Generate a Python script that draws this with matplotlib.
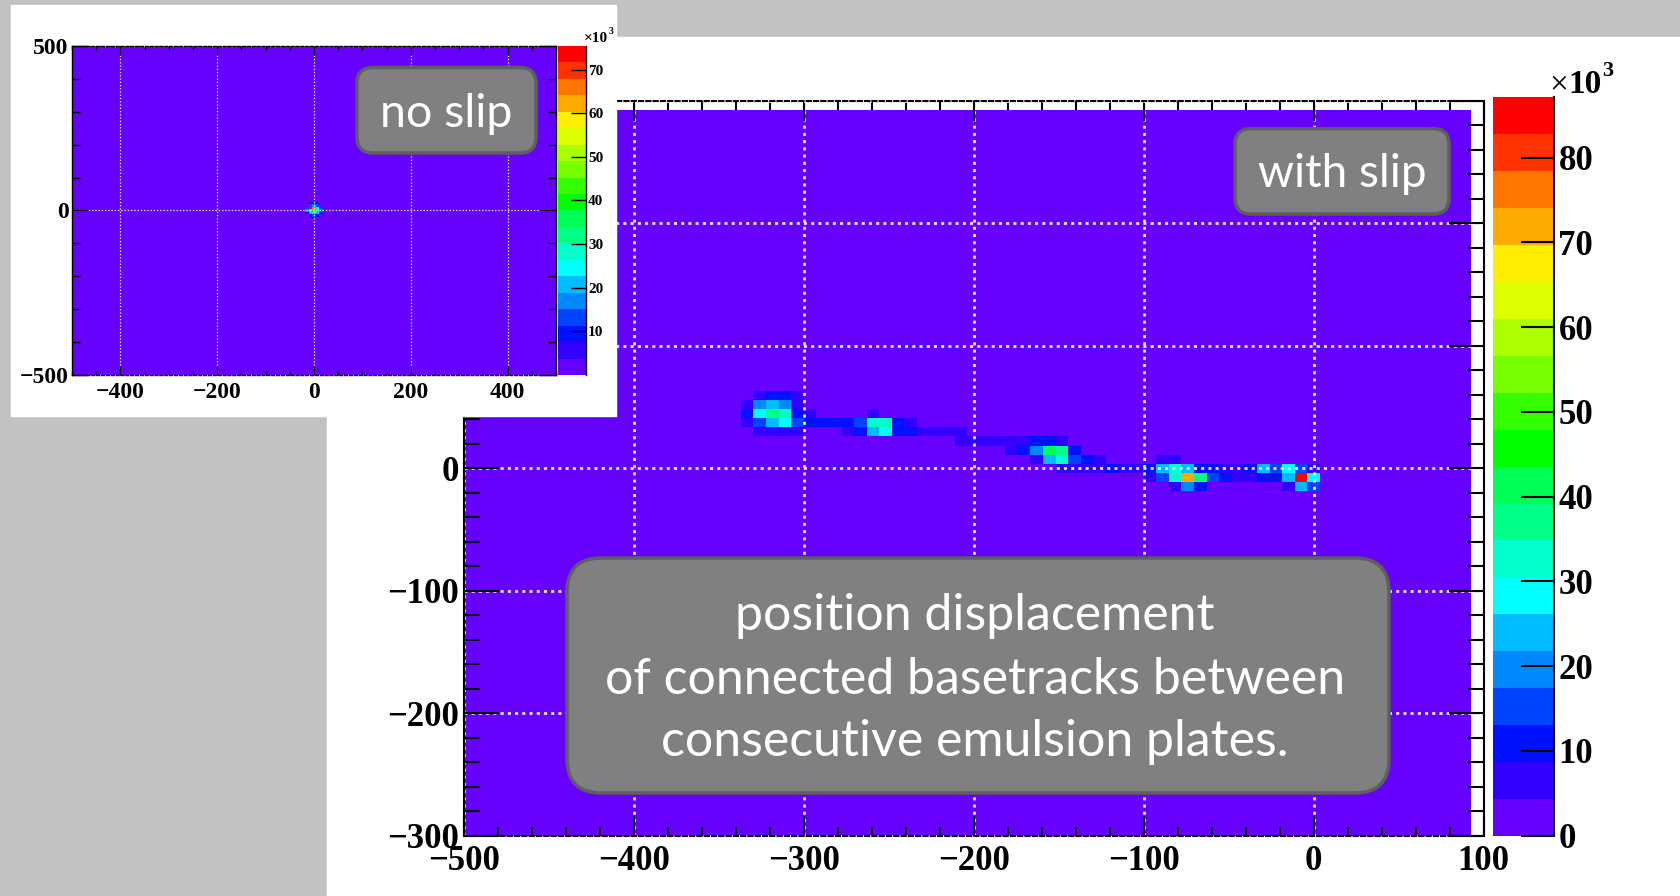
import numpy as np
import matplotlib
matplotlib.use("Agg")
import matplotlib.pyplot as plt
from matplotlib.colors import ListedColormap, BoundaryNorm
from matplotlib.patches import Rectangle, FancyBboxPatch
from matplotlib.ticker import MultipleLocator, FuncFormatter

W, H = 1680, 896

# both histograms: 135 bins over -500..500 um on each axis
n_bins = 135
edges = np.linspace(-500, 500, n_bins + 1)
dx = edges[1] - edges[0]

# 20 contour levels, violet -> red
palette = ['#6600ff', '#3300ff', '#0011ff', '#0044ff', '#0088ff', '#00bbff',
           '#00ffff', '#00ffcc', '#00ff88', '#00ff55', '#00ff00', '#33ff00',
           '#77ff00', '#aaff00', '#ddff00', '#ffee00', '#ffaa00', '#ff7700',
           '#ff3300', '#ff0000']

# every bin inside the drawn range sits in the lowest level
background_k = 0.5

# "with slip": one entry per row of the trail, counts in 10^3 (0 = background)
slip_row_y = [59.3, 51.9, 44.4, 37.0, 29.6, 22.2, 14.8, 7.4, 0.0, -7.4, -14.8]
slip_row_x0 = [-325.9, -333.3, -333.3, -333.3, -325.9, -207.4, -177.8,
               -163.0, -148.1, -96.3, -81.5]
slip_row_k = [
    [6, 11, 11, 6],
    [6, 20, 24, 20, 6],
    [11, 28, 37, 33, 11, 6, 0, 0, 0, 0, 6],
    [6, 15, 24, 28, 15, 11, 11, 11, 11, 15, 33, 33, 11, 6],
    [6, 6, 6, 6, 0, 0, 0, 6, 11, 24, 28, 11, 11, 6, 6, 6, 6],
    [6, 6, 6, 6, 6, 6, 11, 11, 6],
    [6, 11, 20, 41, 37, 11],
    [6, 24, 33, 15, 11, 6, 0, 0, 0, 0, 6, 6],
    [6, 6, 6, 6, 11, 6, 6, 11, 24, 33, 24, 11, 11, 6, 6, 11, 24, 15, 28, 15, 6],
    [6, 15, 33, 72, 37, 15, 11, 6, 6, 11, 11, 24, 86, 28],
    [6, 20, 11, 0, 0, 0, 0, 0, 0, 6, 24, 15],
]
slip_zmax = 87.1

# "no slip": single spot at the origin
noslip_row_y = [22.2, 14.8, 7.4, 0.0, -7.4, -14.8, -22.2]
noslip_row_x0 = [-7.4, -7.4, -14.8, -14.8, -14.8, -7.4, -7.4]
noslip_row_k = [
    [6, 9, 6],
    [13, 17, 13],
    [13, 74, 66, 28, 13],
    [17, 28, 40, 32, 17],
    [9, 21, 36, 21, 9],
    [9, 13, 9],
    [0, 6],
]
noslip_zmax = 75.4

cbar_ticks_slip = [0, 10, 20, 30, 40, 50, 60, 70, 80]
cbar_ticks_noslip = [10, 20, 30, 40, 50, 60, 70]

box_lines = ["position displacement",
             "of connected basetracks between",
             "consecutive emulsion plates."]


def fill_hist(row_y, row_x0, row_k):
    xs, ys, ks = [], [], []
    for y, x0, counts in zip(row_y, row_x0, row_k):
        for i, k in enumerate(counts):
            if k > 0:
                xs.append(x0 + i * dx)
                ys.append(y)
                ks.append(k)
    z, _, _ = np.histogram2d(ys, xs, bins=[edges, edges], weights=ks)
    return np.where(z > 0, z, background_k)


def px_rect(x0, y0, x1, y1):
    return [x0 / W, 1 - y1 / H, (x1 - x0) / W, (y1 - y0) / H]


def overlay(z):
    o = fig.add_axes([0, 0, 1, 1], zorder=z)
    o.set_xlim(0, W)
    o.set_ylim(H, 0)
    o.axis('off')
    return o


def fmt(v, pos):
    v = int(round(v))
    return '\u2212%d' % -v if v < 0 else '%d' % v


def style_axes(ax, xmaj, xmin, ymaj, ymin, xlen, ylen, fs, lw, glw, padx, pady):
    ax.xaxis.set_major_locator(MultipleLocator(xmaj))
    ax.xaxis.set_minor_locator(MultipleLocator(xmin))
    ax.yaxis.set_major_locator(MultipleLocator(ymaj))
    ax.yaxis.set_minor_locator(MultipleLocator(ymin))
    ax.xaxis.set_major_formatter(FuncFormatter(fmt))
    ax.tick_params(which='both', direction='in', top=True, right=True,
                   width=lw, labelsize=fs, color='black')
    ax.tick_params(axis='x', which='major', length=xlen[0], pad=padx)
    ax.tick_params(axis='x', which='minor', length=xlen[1])
    ax.tick_params(axis='y', which='major', length=ylen[0], pad=pady)
    ax.tick_params(axis='y', which='minor', length=ylen[1])
    ax.grid(True, which='major', color='#e8e8e8',
            linestyle=(0, (1.1, 1.5)), linewidth=glw)
    for s in ax.spines.values():
        s.set_linewidth(lw)
    ax.spines['top'].set_linestyle((0, (2, 1.5)))
    ax.spines['bottom'].set_linestyle((0, (2, 1.5)))


def style_cbar(cb, length, lw, fs, pad):
    cb.outline.set_visible(False)
    cb.ax.minorticks_off()
    cb.ax.tick_params(direction='in', length=length, width=lw,
                      labelsize=fs, pad=pad)
    cb.ax.plot([1, 1], [0, 1], transform=cb.ax.transAxes, color='black',
               lw=lw, clip_on=False)


plt.rcParams['font.family'] = ['Liberation Serif', 'DejaVu Serif']
plt.rcParams['font.weight'] = 'bold'

cmap = ListedColormap(palette)
norm_slip = BoundaryNorm(np.linspace(0, slip_zmax, len(palette) + 1), len(palette))
norm_noslip = BoundaryNorm(np.linspace(0, noslip_zmax, len(palette) + 1), len(palette))

z_slip = fill_hist(slip_row_y, slip_row_x0, slip_row_k)[27:107, 0:80]
z_noslip = fill_hist(noslip_row_y, noslip_row_x0, noslip_row_k)

fig = plt.figure(figsize=(W / 100, H / 100), dpi=100)
fig.patch.set_facecolor('#c2c2c2')

# slide panels
bg = overlay(-5)
bg.add_patch(Rectangle((327, 37), W - 327, H - 37, color='white'))

# main plot: with slip
ax = fig.add_axes(px_rect(464, 100.7, 1483.5, 835.7), zorder=0)
mesh = ax.pcolormesh(edges[0:81], edges[27:108], z_slip, cmap=cmap, norm=norm_slip)
ax.set_xlim(-500, 100)
ax.set_ylim(-300, 300)
style_axes(ax, 100, 20, 100, 20, (14.5, 6.5), (25, 11.5), 25, 1.5, 2.0, 7, 3.5)
# labels above 0 sit under the inset panel
ax.yaxis.set_major_formatter(FuncFormatter(lambda v, p: '' if v > 0 else fmt(v, p)))

cax = fig.add_axes(px_rect(1492.5, 97.5, 1553.6, 835.7), zorder=0)
cb = fig.colorbar(mesh, cax=cax, ticks=cbar_ticks_slip)
style_cbar(cb, 24, 1.5, 25, 3.5)

# inset: no slip
mid = overlay(1)
mid.add_patch(Rectangle((11, 5), 605, 411, color='white'))

ax2 = fig.add_axes(px_rect(72, 46, 556, 375), zorder=2)
mesh2 = ax2.pcolormesh(edges, edges, z_noslip, cmap=cmap, norm=norm_noslip)
ax2.set_xlim(-500, 500)
ax2.set_ylim(-500, 500)
style_axes(ax2, 200, 50, 500, 100, (6.5, 3.2), (11.5, 5.8), 17, 1.0, 0.9, 5, 2.5)
ax2.yaxis.set_major_formatter(FuncFormatter(fmt))

cax2 = fig.add_axes(px_rect(558, 46, 586, 375), zorder=2)
cb2 = fig.colorbar(mesh2, cax=cax2, ticks=cbar_ticks_noslip)
style_cbar(cb2, 10.5, 1.0, 11, 1.5)

# annotations
fg = overlay(5)
fg.text(1549, 93, '×', fontsize=24, weight='normal', ha='left', va='baseline')
fg.text(1568, 93, '10', fontsize=24, ha='left', va='baseline')
fg.text(1602, 76, '3', fontsize=16, ha='left', va='baseline')
fg.text(584, 42, '×10', fontsize=11, ha='left', va='baseline')
fg.text(609, 34, '3', fontsize=7, ha='left', va='baseline')

box_style = dict(facecolor='#808080', edgecolor='#5e5e5e', linewidth=2.5)
fg.add_patch(FancyBboxPatch((357, 67.5), 179, 85.5,
                            boxstyle='round,pad=0,rounding_size=16', **box_style))
fg.add_patch(FancyBboxPatch((1235, 128.6), 214, 85.4,
                            boxstyle='round,pad=0,rounding_size=16', **box_style))
fg.add_patch(FancyBboxPatch((567, 558), 822, 235,
                            boxstyle='round,pad=0,rounding_size=34', **box_style))

txt = dict(color='white', family=['Lato', 'DejaVu Sans'], weight='normal',
           ha='center', va='center')
fg.text(446, 114, 'no slip', fontsize=33.5, **txt)
fg.text(1342, 174, 'with slip', fontsize=33, **txt)
for y, line in zip([616, 680, 742], box_lines):
    fg.text(975, y, line, fontsize=36, **txt)

fig.savefig('out.png', dpi=100, facecolor=fig.get_facecolor())
